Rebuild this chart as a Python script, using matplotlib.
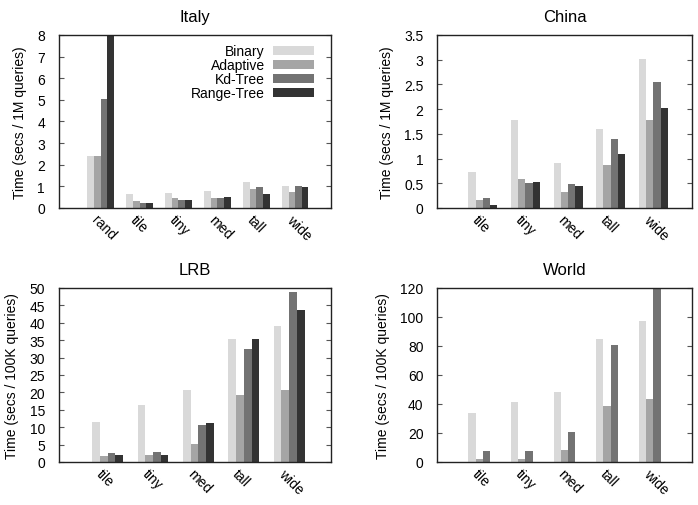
import numpy as np
import matplotlib
matplotlib.use("Agg")
import matplotlib.pyplot as plt
from matplotlib.ticker import MultipleLocator, FormatStrFormatter

plt.rcParams['font.family'] = ['Liberation Sans', 'DejaVu Sans']
plt.rcParams['font.size'] = 10

series_names = ['Binary', 'Adaptive', 'Kd-Tree', 'Range-Tree']
colors = ['#d9d9d9', '#a5a5a5', '#737373', '#333333']

# Italy
italy_cats = ['rand', 'tile', 'tiny', 'med', 'tall', 'wide']
italy_binary = [2.42, 0.65, 0.69, 0.79, 1.20, 1.02]
italy_adaptive = [2.42, 0.32, 0.46, 0.46, 0.88, 0.74]
italy_kdtree = [5.04, 0.23, 0.37, 0.46, 0.97, 1.02]
italy_rangetree = [8.0, 0.23, 0.37, 0.51, 0.65, 0.97]

# China, LRB, World share the same categories
cats = ['tile', 'tiny', 'med', 'tall', 'wide']
china_binary = [0.73, 1.78, 0.90, 1.60, 3.01]
china_adaptive = [0.17, 0.59, 0.33, 0.87, 1.78]
china_kdtree = [0.20, 0.51, 0.49, 1.40, 2.55]
china_rangetree = [0.07, 0.53, 0.45, 1.10, 2.03]

lrb_binary = [11.5, 16.3, 20.7, 35.3, 39.0]
lrb_adaptive = [1.7, 2.0, 5.2, 19.2, 20.7]
lrb_kdtree = [2.6, 2.9, 10.6, 32.4, 48.8]
lrb_rangetree = [2.0, 2.0, 11.2, 35.3, 43.6]

world_binary = [33.8, 41.4, 48.3, 84.8, 97.2]
world_adaptive = [2.1, 2.1, 8.3, 38.6, 43.4]
world_kdtree = [7.6, 7.6, 20.7, 80.7, 119.0]
world_rangetree = [np.nan] * 5  # no Range-Tree run for World


def draw_panel(ax, title, categories, series, ymax, ystep, ylabel, fmt='%g'):
    x = np.arange(len(categories))
    w = 0.17
    for j, vals in enumerate(series):
        ax.bar(x + (j - 1.5) * w, vals, width=w, color=colors[j],
               edgecolor='none', linewidth=0, label=series_names[j])
    ax.set_xlim(-1.07, len(categories) - 0.08)
    ax.set_ylim(0, ymax)
    ax.yaxis.set_major_locator(MultipleLocator(ystep))
    ax.yaxis.set_major_formatter(FormatStrFormatter(fmt))
    # labels start a little left of the group centre, gnuplot style
    ax.set_xticks(x - 0.3)
    ax.set_xticklabels(categories, rotation=-45, ha='left', va='top')
    ax.tick_params(axis='x', length=0, pad=3)
    ax.tick_params(axis='y', direction='in', length=3.5, width=0.8,
                   color='#555555', right=True, pad=10)
    for s in ax.spines.values():
        s.set_linewidth(1.0)
        s.set_color('#222222')
    ax.set_title(title, pad=10)
    ax.set_ylabel(ylabel, labelpad=7.5)


fig = plt.figure(figsize=(6.98, 5.06), dpi=100)
ax1 = fig.add_axes([0.0845, 0.587, 0.3897, 0.342])
ax2 = fig.add_axes([0.6265, 0.587, 0.3656, 0.342])
ax3 = fig.add_axes([0.0845, 0.085, 0.3897, 0.344])
ax4 = fig.add_axes([0.6265, 0.085, 0.3656, 0.344])

draw_panel(ax1, 'Italy', italy_cats,
           [italy_binary, italy_adaptive, italy_kdtree, italy_rangetree],
           8, 1, 'Time (secs / 1M queries)')
draw_panel(ax2, 'China', cats,
           [china_binary, china_adaptive, china_kdtree, china_rangetree],
           3.5, 0.5, 'Time (secs / 1M queries)')
draw_panel(ax3, 'LRB', cats,
           [lrb_binary, lrb_adaptive, lrb_kdtree, lrb_rangetree],
           50, 5, 'Time (secs / 100K queries)')
draw_panel(ax4, 'World', cats,
           [world_binary, world_adaptive, world_kdtree, world_rangetree],
           120, 20, 'Time (secs / 100K queries)')

ax1.legend(loc='upper right', bbox_to_anchor=(0.9375, 0.945), frameon=False,
           markerfirst=False, handlelength=2.95, handleheight=0.58,
           handletextpad=0.6, labelspacing=0.0, borderpad=0, borderaxespad=0)

fig.savefig('out.png', dpi=100)
